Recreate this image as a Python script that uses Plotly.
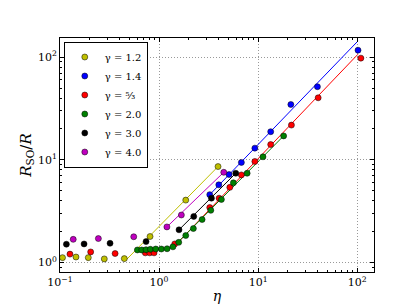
import plotly.graph_objects as go

# ---- data (eta, R_SO/R) ----
labels = ["γ = 1.2", "γ = 1.4", "γ = ⁵⁄₃", "γ = 2.0", "γ = 3.0", "γ = 4.0"]
colors = ["#bfbf00", "#0000ff", "#ff0000", "#008000", "#000000", "#bf00bf"]

eta_12 = [0.106, 0.145, 0.193, 0.280, 0.446, 0.811, 1.86, 3.94]
R_12 = [1.114, 1.13, 1.114, 1.083, 1.09, 1.79, 4.05, 8.60]

eta_14 = [3.25, 4.01, 5.09, 6.78, 9.27, 13.4, 21.4, 39.7, 102]
R_14 = [4.58, 5.71, 7.19, 9.43, 13.0, 18.8, 34.6, 51.6, 117]

eta_53 = [0.126, 0.204, 0.360, 0.727, 0.805, 0.890, 1.44, 3.25, 4.04, 5.18, 6.78, 9.27, 13.4, 21.7, 40.4, 109]
R_53 = [1.206, 1.267, 1.222, 1.24, 1.24, 1.24, 1.515, 3.43, 4.23, 5.39, 7.13, 9.64, 14.1, 21.8, 40.2, 97.9]

eta_20 = [0.604, 0.668, 0.739, 0.817, 0.926, 1.055, 1.205, 1.38, 1.58, 1.86, 2.22, 2.72, 3.33, 4.26, 5.63, 7.75, 11.2, 18.1]
R_20 = [1.323, 1.323, 1.331, 1.343, 1.352, 1.352, 1.36, 1.42, 1.57, 1.83, 2.14, 2.62, 3.22, 4.11, 5.97, 7.40, 10.7, 17.1]

eta_30 = [0.116, 0.175, 0.320, 0.739, 1.59, 2.24, 3.38, 5.95]
R_30 = [1.505, 1.515, 1.538, 1.596, 2.08, 2.81, 4.23, 7.40]

eta_40 = [0.136, 0.244, 0.555, 1.20, 1.68, 4.50]
R_40 = [1.68, 1.71, 1.78, 2.22, 2.90, 7.56]

# power-law fit segments (endpoints in data units)
fit_eta_12 = [0.448, 3.94]
fit_R_12 = [1.02, 8.60]
fit_eta_14 = [3.13, 102]
fit_R_14 = [4.41, 144]
fit_eta_53 = [1.44, 102]
fit_R_53 = [1.45, 107]
fit_eta_20 = [1.38, 18.1]
fit_R_20 = [1.40, 17.1]
fit_eta_30 = [1.59, 5.95]
fit_R_30 = [2.08, 7.40]
fit_eta_40 = [1.20, 4.50]
fit_R_40 = [2.22, 7.56]

# ticks
x_tickvals = [0.1, 1, 10, 100]
x_ticktext = ["10<sup>−1</sup>", "10<sup>0</sup>", "10<sup>1</sup>", "10<sup>2</sup>"]
y_tickvals = [1, 10, 100]
y_ticktext = ["10<sup>0</sup>", "10<sup>1</sup>", "10<sup>2</sup>"]
decades = [0.1, 1, 10, 100]
minor_vals = [d * k for d in decades for k in range(2, 10)]

series = [
    (eta_12, R_12, fit_eta_12, fit_R_12),
    (eta_14, R_14, fit_eta_14, fit_R_14),
    (eta_53, R_53, fit_eta_53, fit_R_53),
    (eta_20, R_20, fit_eta_20, fit_R_20),
    (eta_30, R_30, fit_eta_30, fit_R_30),
    (eta_40, R_40, fit_eta_40, fit_R_40),
]

FONT = "DejaVu Serif"
fig = go.Figure()

for (ex, ry, fx, fy), lab, col in zip(series, labels, colors):
    fig.add_trace(go.Scatter(x=fx, y=fy, mode="lines", line=dict(color=col, width=1),
                             showlegend=False, hoverinfo="skip"))

for (ex, ry, fx, fy), lab, col in zip(series, labels, colors):
    fig.add_trace(go.Scatter(x=ex, y=ry, mode="markers", name=lab,
                             marker=dict(color=col, size=6, line=dict(color="black", width=0.5))))

axis_common = dict(
    type="log", showline=True, linecolor="black", linewidth=1, mirror="allticks",
    ticks="inside", ticklen=4, tickcolor="black",
    showgrid=True, gridcolor="#999999", griddash="1px,2px", gridwidth=1, zeroline=False,
    tickfont=dict(family=FONT, size=11, color="black"),
    minor=dict(ticks="inside", ticklen=2, tickcolor="black", showgrid=False,
               tickmode="array", tickvals=minor_vals),
)

fig.update_xaxes(**axis_common, range=[-1, 2.17], tickmode="array",
                 tickvals=x_tickvals, ticktext=x_ticktext,
                 title=dict(text="<i>η</i>", font=dict(family=FONT, size=14, color="black"), standoff=2))
fig.update_yaxes(**axis_common, range=[-0.093, 2.187], tickmode="array",
                 tickvals=y_tickvals, ticktext=y_ticktext,
                 title=dict(text="<i>R</i><sub>SO</sub>/<i>R</i>", font=dict(family=FONT, size=15, color="black"), standoff=2))

fig.update_layout(
    width=407, height=305,
    margin=dict(l=52, r=41, t=30, b=31),
    paper_bgcolor="white", plot_bgcolor="white",
    font=dict(family=FONT, color="black"),
    legend=dict(x=0.012, y=0.985, xanchor="left", yanchor="top",
                bordercolor="black", borderwidth=1, bgcolor="white",
                font=dict(family=FONT, size=10), tracegroupgap=0, itemwidth=30),
)

fig.write_html("out.html")
